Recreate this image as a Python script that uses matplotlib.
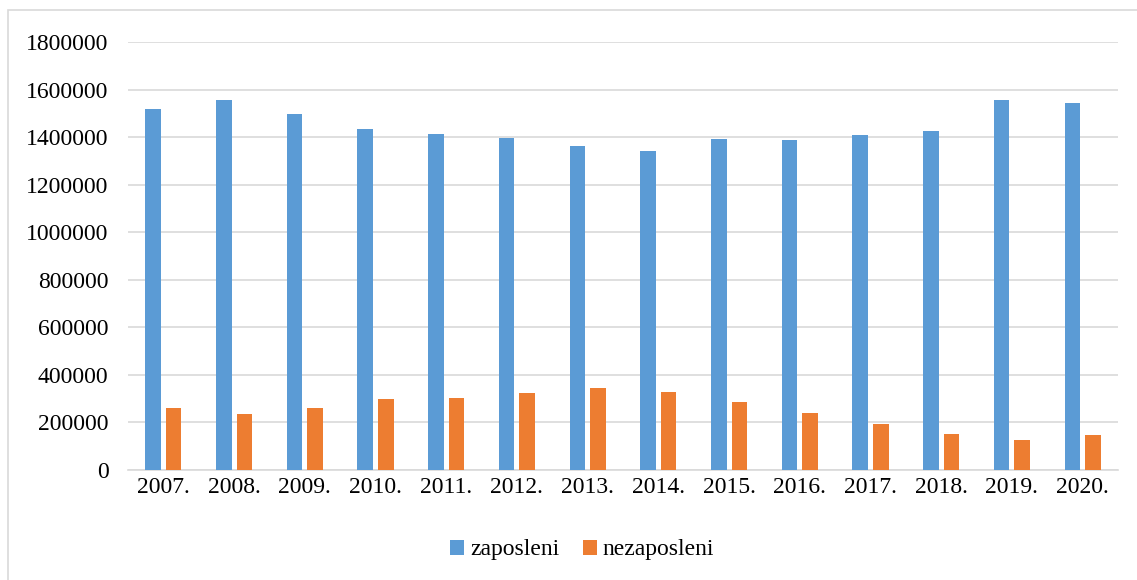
import matplotlib
matplotlib.use("Agg")
import matplotlib.pyplot as plt
import numpy as np
from matplotlib.patches import Rectangle

years = ["2007.", "2008.", "2009.", "2010.", "2011.", "2012.", "2013.",
         "2014.", "2015.", "2016.", "2017.", "2018.", "2019.", "2020."]
zaposleni = [1517000, 1555000, 1498600, 1433300, 1412300, 1395600, 1364600,
             1342400, 1391400, 1389700, 1409400, 1427400, 1555000, 1543400]
nezaposleni = [261800, 236600, 261800, 300700, 303700, 323400, 344300,
               327500, 284000, 239600, 193500, 151600, 127700, 148700]
yticks = [0, 200000, 400000, 600000, 800000, 1000000, 1200000, 1400000, 1600000, 1800000]

plt.rcParams['font.family'] = ['Liberation Serif', 'DejaVu Serif']

fig = plt.figure(figsize=(11.37, 5.8), dpi=100)
ax = fig.add_axes([128/1137, 1 - 470/580, (1118 - 128)/1137, (470 - 42)/580])

x = np.arange(len(years))
w = 0.22
off = 0.145
ax.bar(x - off, zaposleni, w, color="#5B9BD5", label="zaposleni", zorder=3)
ax.bar(x + off, nezaposleni, w, color="#ED7D31", label="nezaposleni", zorder=3)

ax.set_xlim(-0.5, len(years) - 0.5)
ax.set_ylim(0, 1800000)
ax.set_yticks(yticks)
ax.set_yticklabels([str(v) for v in yticks], fontsize=17)
ax.set_xticks(x)
ax.set_xticklabels(years, fontsize=17)
ax.tick_params(axis='x', length=0, pad=5)
ax.tick_params(axis='y', length=0, pad=14)
ax.yaxis.grid(True, color="#d9d9d9", linewidth=1.2, zorder=0)
for s in ["top", "right", "left"]:
    ax.spines[s].set_visible(False)
ax.spines["bottom"].set_color("#d9d9d9")
ax.spines["bottom"].set_linewidth(1.2)

fig.legend(loc="center", bbox_to_anchor=(582/1137, 1 - 550/580), ncol=2,
           frameon=False, fontsize=17, handlelength=0.6, handleheight=0.6,
           handletextpad=0.25, columnspacing=1.0)

fig.patches.append(Rectangle((8/1137, -0.1), 1.2, 1 - 10/580 + 0.1,
                             transform=fig.transFigure, fill=False,
                             edgecolor="#d9d9d9", linewidth=1.2))

fig.savefig("out.png", dpi=100)
